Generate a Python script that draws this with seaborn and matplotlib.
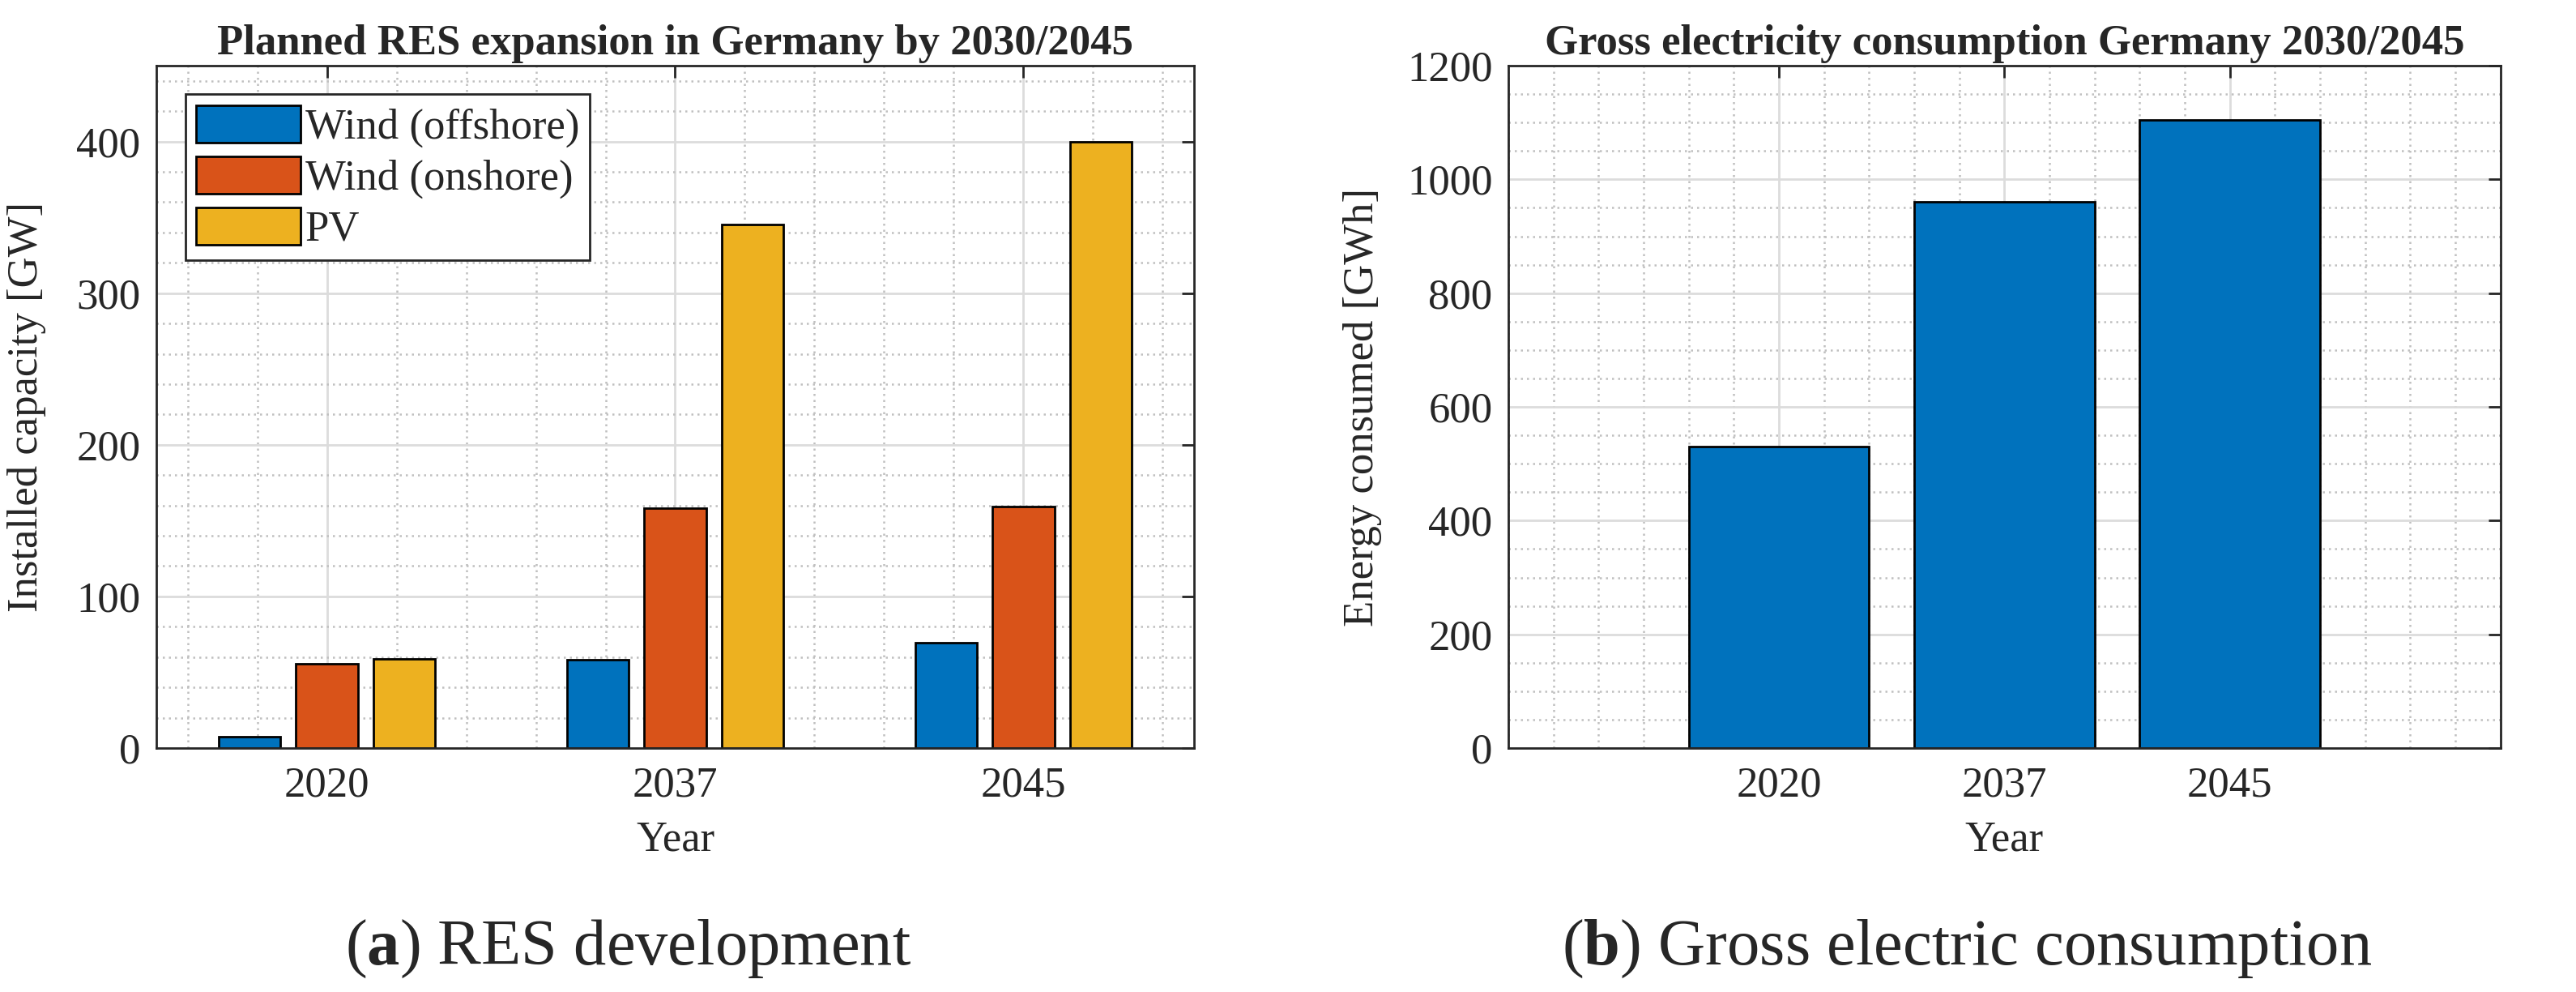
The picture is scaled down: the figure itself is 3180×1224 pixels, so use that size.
import numpy as np
import pandas as pd
import seaborn as sns
import matplotlib.pyplot as plt
from matplotlib.ticker import MultipleLocator

# data
years = ['2020', '2037', '2045']
sources = ['Wind (offshore)', 'Wind (onshore)', 'PV']
offshore = [7.5, 58, 69.5]
onshore = [55.5, 158, 159.5]
pv = [58.8, 345.5, 400]
consumption = [530, 960, 1105]
colors = ['#0072BD', '#D95319', '#EDB120']

df = pd.DataFrame({
    'Year': years * 3,
    'source': [s for s in sources for _ in years],
    'capacity': offshore + onshore + pv,
})
df_cons = pd.DataFrame({'Year': years, 'energy': consumption})

sns.set_style('white')
plt.rcParams['font.family'] = ['Liberation Serif', 'DejaVu Serif']
plt.rcParams['mathtext.fontset'] = 'custom'
plt.rcParams['mathtext.rm'] = 'Liberation Serif'
plt.rcParams['mathtext.bf'] = 'Liberation Serif:bold'

dark = '#262626'
fig = plt.figure(figsize=(15.9, 6.12), dpi=200)
ax1 = fig.add_axes([0.0607, 0.2459, 0.4028, 0.6879])
ax2 = fig.add_axes([0.5855, 0.2459, 0.3852, 0.6879])

# left: planned RES expansion
sns.barplot(data=df, x='Year', y='capacity', hue='source', palette=colors,
            saturation=1, width=0.667, gap=0.2, edgecolor='black',
            linewidth=1.0, ax=ax1)
ax1.set_xlim(-0.49, 2.49)
ax1.set_ylim(0, 450)
ax1.yaxis.set_major_locator(MultipleLocator(100))
ax1.yaxis.set_minor_locator(MultipleLocator(20))
ax1.set_ylabel('Installed capacity [GW]', fontsize=19, color=dark)
ax1.yaxis.set_label_coords(-0.106, 0.5)
ax1.set_title('Planned RES expansion in Germany by 2030/2045',
              fontsize=19, fontweight='bold', pad=5)
leg = ax1.legend(loc='upper left', bbox_to_anchor=(0.028, 0.958),
                 borderaxespad=0, fontsize=19,
                 handlelength=2.45, handleheight=0.97, handletextpad=0.1,
                 labelspacing=0.2, borderpad=0.25, fancybox=False,
                 edgecolor=dark, framealpha=1)
leg.get_frame().set_linewidth(1.0)

# right: gross electricity consumption
sns.barplot(data=df_cons, x='Year', y='energy', color=colors[0],
            saturation=1, width=0.8, edgecolor='black', linewidth=1.0, ax=ax2)
ax2.set_xlim(-1.2, 3.2)
ax2.set_ylim(0, 1200)
ax2.yaxis.set_major_locator(MultipleLocator(200))
ax2.yaxis.set_minor_locator(MultipleLocator(50))
ax2.set_ylabel('Energy consumed [GWh]', fontsize=19, color=dark)
ax2.yaxis.set_label_coords(-0.127, 0.5)
ax2.set_title('Gross electricity consumption Germany 2030/2045',
              fontsize=19, fontweight='bold', pad=5)

for ax in (ax1, ax2):
    ax.xaxis.set_minor_locator(MultipleLocator(0.2))
    ax.set_axisbelow(True)
    ax.grid(which='major', color='#dcdcdc', lw=1.0, ls='-')
    ax.grid(which='minor', color='#c0c0c0', lw=0.9, ls=(0, (1, 2)))
    ax.set_xlabel('Year', fontsize=19, color=dark)
    ax.xaxis.set_label_coords(0.5, -0.106)
    ax.tick_params(which='major', direction='in', length=5.4, width=1.0,
                   top=True, right=True, color=dark, labelsize=19,
                   labelcolor=dark)
    ax.tick_params(axis='x', which='major', pad=8)
    ax.tick_params(axis='y', which='major', pad=7)
    ax.tick_params(which='minor', length=0)
    for sp in ax.spines.values():
        sp.set_visible(True)
        sp.set_color(dark)
        sp.set_linewidth(1.0)

fig.text(0.244, 0.028, r'($\mathbf{a}$) RES development', fontsize=29,
         ha='center', va='baseline')
fig.text(0.7635, 0.028, r'($\mathbf{b}$) Gross electric consumption',
         fontsize=29, ha='center', va='baseline')

fig.savefig('out.png', dpi=200)
